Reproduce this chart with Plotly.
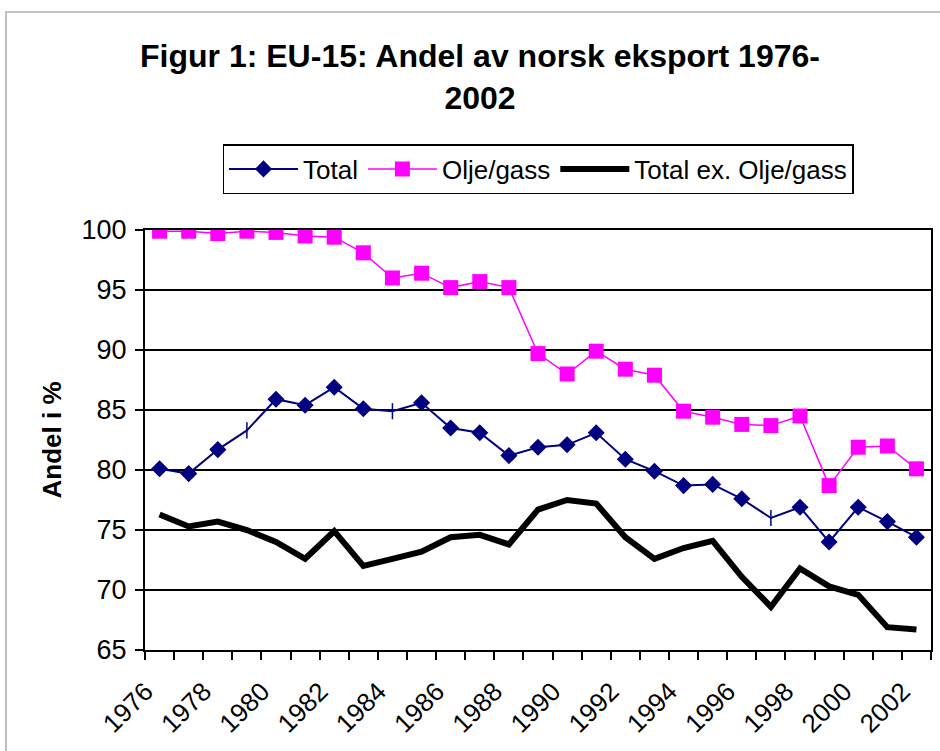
import plotly.graph_objects as go

years = list(range(1976, 2003))
total = [80.1, 79.7, 81.7, 83.3, 85.9, 85.4, 86.9, 85.1, 84.9, 85.6, 83.5, 83.1, 81.2,
         81.9, 82.1, 83.1, 80.9, 79.9, 78.7, 78.8, 77.6, 76.0, 76.9, 74.0, 76.9, 75.7, 74.4]
olje_gass = [99.9, 99.9, 99.7, 99.9, 99.8, 99.5, 99.4, 98.1, 96.0, 96.4, 95.2, 95.7, 95.2,
             89.7, 88.0, 89.9, 88.4, 87.9, 84.9, 84.4, 83.8, 83.7, 84.5, 78.7, 81.9, 82.0, 80.1]
total_ex = [76.3, 75.3, 75.7, 75.0, 74.0, 72.6, 74.9, 72.0, 72.6, 73.2, 74.4, 74.6, 73.8,
            76.7, 77.5, 77.2, 74.4, 72.6, 73.5, 74.1, 71.1, 68.6, 71.8, 70.3, 69.6, 66.9, 66.7]
tick_years = list(range(1976, 2003, 2))
tick_labels = [str(y) for y in tick_years]
y_ticks = [65, 70, 75, 80, 85, 90, 95, 100]

no_marker_years = {1979, 1984, 1997}
total_symbols = ["line-ns" if y in no_marker_years else "diamond" for y in years]

FONT = "Arial, 'Liberation Sans', sans-serif"
NAVY = "#000080"
PINK = "#FF00FF"

fig = go.Figure()
fig.add_trace(go.Scatter(
    x=years, y=total, name="Total", mode="lines+markers",
    line=dict(color=NAVY, width=2),
    marker=dict(symbol=total_symbols, size=11.5, color=NAVY,
                line=dict(color=NAVY, width=1.5)),
))
fig.add_trace(go.Scatter(
    x=years, y=olje_gass, name="Olje/gass", mode="lines+markers",
    line=dict(color=PINK, width=1.5),
    marker=dict(symbol="square", size=15, color=PINK),
))
fig.add_trace(go.Scatter(
    x=years, y=total_ex, name="Total ex. Olje/gass", mode="lines",
    line=dict(color="black", width=6),
))

L, R, T, B = 145, 9, 230, 101
W, H = 940, 751
pw, ph = W - L - R, H - T - B

fig.update_layout(
    width=W, height=H,
    margin=dict(l=L, r=R, t=T, b=B, autoexpand=False),
    paper_bgcolor="white", plot_bgcolor="white",
    font=dict(family=FONT, size=26, color="black"),
    title=dict(
        text="<b>Figur 1: EU-15: Andel av norsk eksport 1976-<br>2002</b>",
        x=480 / W, xanchor="center", y=1 - 67 / H, yanchor="top",
        font=dict(family=FONT, size=32, color="black"),
    ),
    showlegend=True,
    legend=dict(
        orientation="h", x=0.5, xanchor="center",
        y=1 + (T - 144) / ph, yanchor="top",
        bordercolor="black", borderwidth=1.5, bgcolor="white",
        font=dict(family=FONT, size=26, color="black"),
        itemwidth=69, tracegroupgap=0,
    ),
    shapes=[dict(
        type="rect", xref="paper", yref="paper",
        x0=(6 - L) / pw, x1=(W + 10 - L) / pw,
        y0=-(H + 10 - (H - B)) / ph, y1=1 + (T - 12) / ph,
        line=dict(color="#C0C0C0", width=2), fillcolor="rgba(0,0,0,0)",
        layer="below",
    )],
)

fig.update_xaxes(
    range=[1975.5, 2002.5], automargin=False,
    tickmode="array", tickvals=tick_years, ticktext=tick_labels,
    tickangle=-45, ticks="", showgrid=False, zeroline=False,
    showline=True, linecolor="black", linewidth=2, mirror=True,
    tickfont=dict(family=FONT, size=26, color="black"),
    minor=dict(tick0=1975.5, dtick=1, ticks="outside", ticklen=8,
               tickcolor="black", tickwidth=2, showgrid=False),
    ticklabelstandoff=14, ticklabelshift=-14,
)
fig.update_yaxes(
    range=[65, 100], automargin=False, tickmode="array", tickvals=y_ticks,
    ticks="outside", ticklen=8, tickcolor="black", tickwidth=2,
    showgrid=True, gridcolor="black", gridwidth=1.5, zeroline=False,
    showline=True, linecolor="black", linewidth=2, mirror=True,
    tickfont=dict(family=FONT, size=27, color="black"),
    ticklabelstandoff=3,
    title=dict(text="<b>Andel i %</b>", standoff=12,
               font=dict(family=FONT, size=26, color="black")),
)

fig.write_html(
    "out.html",
    config={"displayModeBar": False, "staticPlot": True},
    post_script="document.body.style.margin='0';document.body.style.overflow='hidden';",
)
